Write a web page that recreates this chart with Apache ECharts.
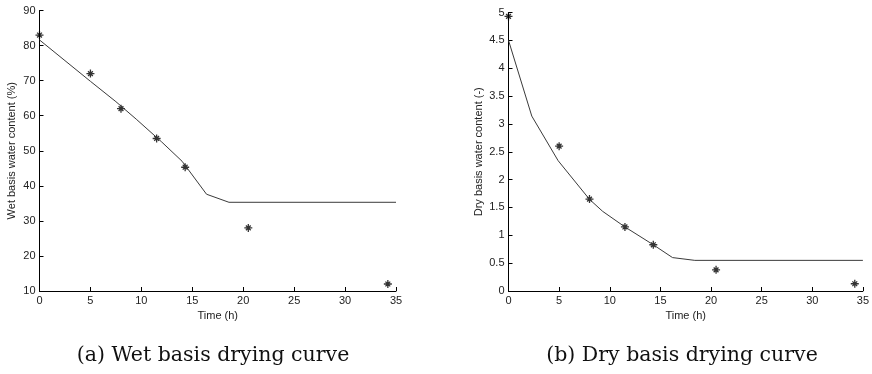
<!DOCTYPE html>
<html><head><meta charset="utf-8">
<script src="https://cdn.jsdelivr.net/npm/echarts@6/dist/echarts.min.js"></script>
<style>html,body{margin:0;padding:0;background:#fff}#c{width:872px;height:374px}</style>
</head><body><div id="c"></div>
<script>
// Measured data (time h, value)
const wetTimes = [0, 5, 8, 11.5, 14.3, 20.5, 34.2];
const wetMeasured = [83, 72, 62, 53.5, 45.3, 28, 12];
const wetModelTimes = [0, 2.5, 5, 7.5, 9.5, 12, 14, 16.4, 18.6, 35];
const wetModel = [81.6, 75.7, 69.8, 64.0, 59.0, 52.5, 47.0, 37.6, 35.3, 35.3];

const dryTimes = [0, 5, 8, 11.5, 14.3, 20.5, 34.2];
const dryMeasured = [4.93, 2.6, 1.65, 1.15, 0.83, 0.38, 0.13];
const dryModelTimes = [0, 2.3, 4.9, 8, 9.3, 11.5, 14.3, 16.2, 18.4, 35];
const dryModel = [4.5, 3.14, 2.34, 1.645, 1.43, 1.15, 0.83, 0.60, 0.55, 0.55];

const xTicks = [0, 35, 5];
const wetY = [10, 90, 10];
const dryY = [0, 5, 0.5];

const pair = (xs, ys) => xs.map((x, i) => [x, ys[i]]);
const star = 'path://M0,-1L0,1M-1,0L1,0M-0.6,-0.6L0.6,0.6M-0.6,0.6L0.6,-0.6';
const tickFont = {fontFamily: 'Liberation Sans, Arial, sans-serif', fontSize: 11, color: '#222'};

function xAxis(gi) {
  return {
    type: 'value', gridIndex: gi, min: xTicks[0], max: xTicks[1], interval: xTicks[2],
    name: 'Time (h)', nameLocation: 'middle', nameGap: 19,
    nameTextStyle: {fontFamily: 'Liberation Sans, Arial, sans-serif', fontSize: 11, color: '#222'},
    axisLine: {lineStyle: {color: '#000', width: 1}},
    axisTick: {inside: true, length: 4, lineStyle: {color: '#000'}},
    axisLabel: Object.assign({margin: 4}, tickFont),
    splitLine: {show: false}
  };
}
function yAxis(gi, r, name, gap, fmt) {
  return {
    type: 'value', gridIndex: gi, min: r[0], max: r[1], interval: r[2],
    name: name, nameLocation: 'middle', nameGap: gap, nameRotate: 90,
    nameTextStyle: {fontFamily: 'Liberation Sans, Arial, sans-serif', fontSize: 11, color: '#222'},
    axisLine: {show: true, lineStyle: {color: '#000', width: 1}},
    axisTick: {show: true, inside: true, length: 4, lineStyle: {color: '#000'}},
    axisLabel: Object.assign({margin: 4, formatter: fmt}, tickFont),
    splitLine: {show: false}
  };
}

const capStyle = {fontFamily: 'DejaVu Serif, Liberation Serif, serif', fontSize: 20.5, fontWeight: 'normal', color: '#111'};
const chart = echarts.init(document.getElementById('c'), null, {renderer: 'canvas'});
chart.setOption({
  animation: false,
  backgroundColor: '#fff',
  title: [
    {text: '(a) Wet basis drying curve', left: 208, top: 340, textAlign: 'center', textStyle: capStyle},
    {text: '(b) Dry basis drying curve', left: 677, top: 340, textAlign: 'center', textStyle: capStyle}
  ],
  grid: [
    {left: 39.5, top: 10.5, width: 356.5, height: 280.5},
    {left: 508.5, top: 12.5, width: 356, height: 278.5}
  ],
  xAxis: [xAxis(0), xAxis(1)],
  yAxis: [
    yAxis(0, wetY, 'Wet basis water content (%)', 22, v => String(v)),
    yAxis(1, dryY, 'Dry basis water content (-)', 24, v => String(v))
  ],
  series: [
    {type: 'line', xAxisIndex: 0, yAxisIndex: 0, data: pair(wetModelTimes, wetModel),
     showSymbol: false, lineStyle: {color: '#3a3a3a', width: 1}},
    {type: 'scatter', xAxisIndex: 0, yAxisIndex: 0, data: pair(wetTimes, wetMeasured),
     symbol: star, symbolSize: 8, itemStyle: {color: '#000', borderColor: '#000', borderWidth: 1.3}},
    {type: 'line', xAxisIndex: 1, yAxisIndex: 1, data: pair(dryModelTimes, dryModel),
     showSymbol: false, lineStyle: {color: '#3a3a3a', width: 1}},
    {type: 'scatter', xAxisIndex: 1, yAxisIndex: 1, data: pair(dryTimes, dryMeasured),
     symbol: star, symbolSize: 8, itemStyle: {color: '#000', borderColor: '#000', borderWidth: 1.3}}
  ]
});
</script></body></html>
